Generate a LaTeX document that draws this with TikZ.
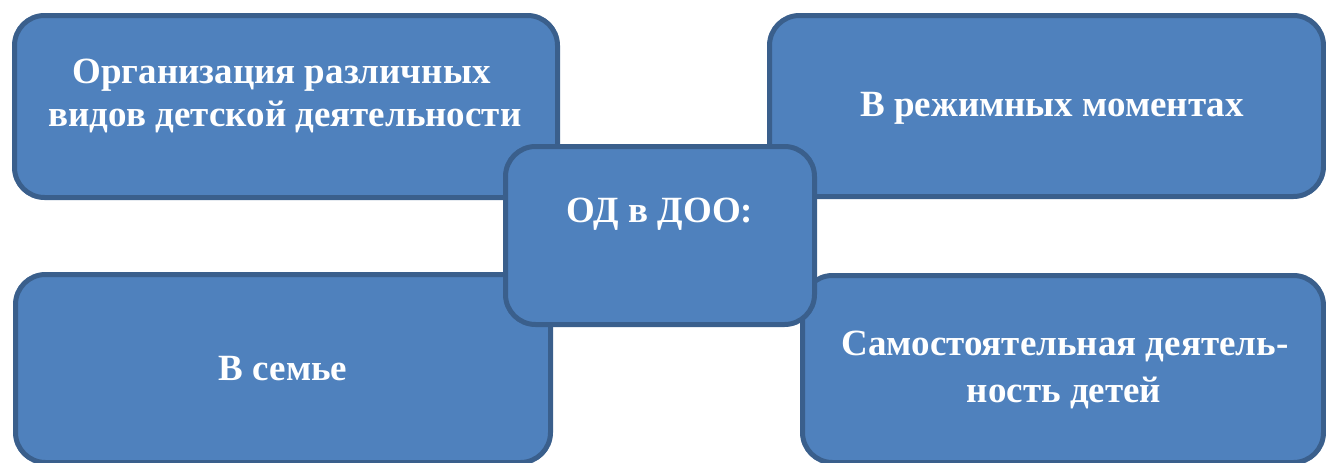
\documentclass[tikz,border=0pt]{standalone}
\usepackage{fontspec}
\setmainfont{Liberation Serif}
\definecolor{boxfill}{HTML}{4F81BD}
\definecolor{boxline}{HTML}{3A5F8C}
\begin{document}
\begin{tikzpicture}[x=1pt,y=-1pt,
  box/.style={draw=boxline, fill=boxfill, line width=5pt, rounded corners=30pt, inner sep=0pt},
  lbl/.style={text=white, font=\bfseries\fontsize{37}{44}\selectfont, anchor=base, inner sep=0pt}]
\useasboundingbox (0,0) rectangle (1326,463);
\node[box, minimum width=543pt, minimum height=182pt] (tl) at (286,106.5) {};
\node[box, minimum width=554pt, minimum height=181pt] (tr) at (1046.5,106) {};
\node[box, minimum width=535pt, minimum height=188pt] (bl) at (283,368.5) {};
\node[box, minimum width=521pt, minimum height=187pt] (br) at (1063,369) {};
\node[box, minimum width=309pt, minimum height=178pt] (c) at (660,235.5) {};
\node[lbl] (tl1) at (281.5,83) {Организация различных};
\node[lbl] (tl2) at (285,126) {видов детской деятельности};
\node[lbl] (tr1) at (1052,116) {В режимных моментах};
\node[lbl] (c1) at (660,222) {ОД в ДОО:};
\node[lbl] (bl1) at (283,380) {В семье};
\node[lbl] (br1) at (1065,355) {Самостоятельная деятель-};
\node[lbl] (br2) at (1064,402) {ность детей};
\end{tikzpicture}
\end{document}
